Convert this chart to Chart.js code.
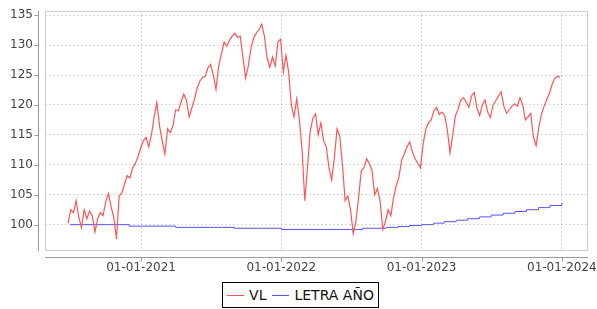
<!DOCTYPE html>
<html>
<head>
<meta charset="utf-8">
<script src="https://cdn.jsdelivr.net/npm/chart.js@4.4.1/dist/chart.umd.min.js"></script>
<style>
    body { margin: 0; background: #fff; }
    #wrap { position: relative; width: 597px; height: 309px; }
    #legend {
        position: absolute; left: 222px; top: 282px; width: 155px; height: 24px;
        border: 1px solid #000; display: flex; align-items: center; justify-content: center;
        font: 14px 'DejaVu Sans', sans-serif; color: #111; white-space: nowrap;
    }
    #legend .item { display: flex; align-items: center; margin: 0 3px; }
    #legend .swatch { display: inline-block; width: 17px; height: 1px; margin-right: 5px; }
</style>
</head>
<body>
<div id="wrap">
    <canvas id="chart" width="597" height="280"></canvas>
    <div id="legend"></div>
</div>
<script>
// Series names and colours
const seriesNames = ['VL', 'LETRA AÑO'];
const seriesColors = ['#ff5555', '#5555ff'];

// VL: weekly values starting 25-06-2020
const vlStart = Date.UTC(2020, 5, 25);
const vlValues = [
    100.2, 102.5, 102.0, 104.0, 101.2, 99.5, 102.5, 101.0, 102.3, 101.5,
    98.8, 101.0, 102.0, 101.5, 103.8, 105.2, 103.0, 101.2, 97.6, 104.8,
    105.3, 106.8, 108.2, 107.8, 109.5, 110.2, 111.4, 112.8, 114.0, 114.6,
    113.0, 115.0, 118.0, 120.4, 116.5, 114.0, 111.8, 116.0, 115.4, 116.5,
    119.2, 119.0, 120.5, 121.8, 120.8, 118.0, 119.5, 121.0, 122.8, 124.0,
    124.6, 124.8, 126.2, 126.8, 125.0, 122.6, 126.5, 128.5, 130.5, 129.8,
    130.8, 131.5, 132.0, 131.3, 131.5, 128.0, 124.5, 126.5, 129.5, 131.2,
    132.0, 132.6, 133.5, 131.5, 127.8, 126.3, 128.0, 126.5, 130.5, 131.0,
    125.5, 128.3, 125.5, 120.0, 118.0, 121.0, 117.5, 112.5, 104.0, 109.5,
    115.5, 117.8, 118.5, 115.0, 117.0, 114.0, 113.0, 109.5, 107.5, 111.2,
    116.0, 114.8, 110.0, 104.0, 104.8, 102.5, 98.5, 100.5, 104.5, 109.0,
    109.5, 111.0, 110.2, 109.0, 105.0, 106.0, 104.0, 99.2, 100.5, 102.5,
    101.5, 104.5, 106.5, 107.9, 110.8, 111.8, 113.0, 113.8, 112.2, 111.0,
    110.3, 109.5, 113.5, 116.0, 117.0, 117.5, 119.0, 119.6, 118.4, 118.8,
    118.2, 115.8, 112.0, 115.0, 118.2, 119.3, 120.8, 121.2, 120.5, 119.6,
    121.5, 122.1, 119.5, 118.2, 120.0, 120.8, 118.8, 117.9, 120.0, 120.7,
    121.5, 122.2, 119.8, 118.6, 119.2, 119.8, 120.2, 119.8, 121.2, 120.0,
    117.5, 118.0, 118.6, 114.6, 113.2, 116.3, 118.5, 119.8, 121.0, 122.0,
    123.5, 124.5, 124.8, 124.6
];

// LETRA AÑO: monthly values from 07-2020 to 01-2024
const letraValues = [
    100.0, 100.0, 100.0, 100.0, 100.0, 99.75, 99.75, 99.75, 99.75, 99.55,
    99.55, 99.55, 99.55, 99.55, 99.4, 99.4, 99.4, 99.4, 99.2, 99.2,
    99.2, 99.2, 99.2, 99.2, 99.2, 99.4, 99.4, 99.55, 99.7, 99.85,
    100.0, 100.25, 100.5, 100.75, 101.0, 101.3, 101.6, 101.9, 102.2, 102.5,
    102.85, 103.2, 103.6
];

// Axis ticks
const yTicks = [100, 105, 110, 115, 120, 125, 130, 135];
const xTickLabels = ['01-01-2021', '01-01-2022', '01-01-2023', '01-01-2024'];
const yMin = 95.6, yMax = 135.7;

const DAY = 86400000;
const xTicks = xTickLabels.map(s => {
    const [d, m, y] = s.split('-').map(Number);
    return Date.UTC(y, m - 1, d);
});
const xMin = xTicks[0] - 250 * DAY;
const xMax = xTicks[xTicks.length - 1] + 68 * DAY;

const vlData = vlValues.map((v, i) => ({ x: vlStart + i * 7 * DAY, y: v }));
const letraData = letraValues.map((v, i) => ({ x: Date.UTC(2020, 6 + i, 1), y: v }));

// Plot frame plus axis lines set off from the plot, as in the original
const framePlugin = {
    id: 'frame',
    afterDraw(chart) {
        const { ctx, chartArea: a, scales } = chart;
        ctx.save();
        ctx.lineWidth = 1;
        ctx.strokeStyle = '#cfcfcf';
        ctx.strokeRect(a.left + 0.5, a.top + 0.5, a.right - a.left - 1, a.bottom - a.top - 1);

        ctx.strokeStyle = '#9a9a9a';
        ctx.beginPath();
        const ax = a.left - 6.5;
        ctx.moveTo(ax, a.top);
        ctx.lineTo(ax, a.bottom);
        yTicks.forEach(t => {
            const py = Math.round(scales.y.getPixelForValue(t)) + 0.5;
            ctx.moveTo(ax - 4, py);
            ctx.lineTo(ax, py);
        });
        const ay = a.bottom + 6.5;
        ctx.moveTo(a.left, ay);
        ctx.lineTo(a.right, ay);
        xTicks.forEach(t => {
            const px = Math.round(scales.x.getPixelForValue(t)) + 0.5;
            ctx.moveTo(px, ay);
            ctx.lineTo(px, ay + 4);
        });
        ctx.stroke();
        ctx.restore();
    }
};

Chart.defaults.font.family = "'DejaVu Sans', sans-serif";
Chart.defaults.font.size = 12;
Chart.defaults.color = '#444';

const ctx = document.getElementById('chart').getContext('2d');
new Chart(ctx, {
    type: 'line',
    data: {
        datasets: [
            {
                label: seriesNames[0],
                data: vlData,
                borderColor: seriesColors[0],
                borderWidth: 1.2,
                pointRadius: 0,
                tension: 0
            },
            {
                label: seriesNames[1],
                data: letraData,
                borderColor: seriesColors[1],
                borderWidth: 1,
                pointRadius: 0,
                stepped: true
            }
        ]
    },
    options: {
        responsive: false,
        animation: false,
        layout: {
            padding: { top: 11, right: 9, left: 0, bottom: 0 }
        },
        scales: {
            x: {
                type: 'linear',
                min: xMin,
                max: xMax,
                afterBuildTicks: scale => {
                    scale.ticks = xTicks.map(v => ({ value: v }));
                },
                afterFit: scale => {
                    scale.height = 29;
                    scale.paddingLeft = 0;
                    scale.paddingRight = 0;
                },
                ticks: {
                    autoSkip: false,
                    maxRotation: 0,
                    padding: 10,
                    callback: (value, index) => xTickLabels[index]
                },
                grid: {
                    color: 'rgba(0, 0, 0, 0.15)',
                    drawTicks: false
                },
                border: { display: false, dash: [2, 2] }
            },
            y: {
                min: yMin,
                max: yMax,
                afterBuildTicks: scale => {
                    scale.ticks = yTicks.map(v => ({ value: v }));
                },
                afterFit: scale => {
                    scale.width = 45;
                    scale.paddingTop = 0;
                    scale.paddingBottom = 0;
                },
                ticks: {
                    padding: 12
                },
                grid: {
                    color: 'rgba(0, 0, 0, 0.15)',
                    drawTicks: false
                },
                border: { display: false, dash: [2, 2] }
            }
        },
        plugins: {
            legend: { display: false },
            tooltip: { enabled: false }
        }
    },
    plugins: [framePlugin]
});

// Legend below the chart
const legend = document.getElementById('legend');
seriesNames.forEach((name, i) => {
    const item = document.createElement('span');
    item.className = 'item';
    const swatch = document.createElement('span');
    swatch.className = 'swatch';
    swatch.style.background = seriesColors[i];
    item.appendChild(swatch);
    item.appendChild(document.createTextNode(name));
    legend.appendChild(item);
});
</script>
</body>
</html>
